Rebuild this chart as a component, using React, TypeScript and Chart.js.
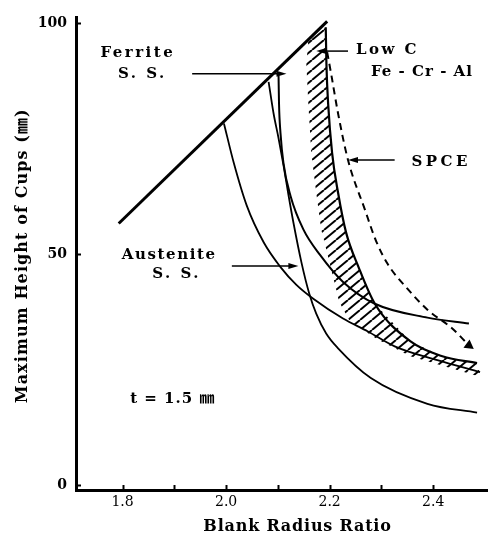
import React, { useEffect, useRef } from 'react';
import { Chart, registerables } from 'chart.js';

Chart.register(...registerables);

// ---------- axes ----------
const X_MIN = 1.71;
const X_MAX = 2.504;
const Y_MIN = -1.1;
const Y_MAX = 101.3;
const X_LABEL_TICKS = [1.8, 2.0, 2.2, 2.4];
const X_MINOR_TICKS = [1.8, 1.9, 2.0, 2.1, 2.2, 2.3, 2.4];
const Y_TICKS = [0, 50, 100];

// ---------- series ----------
// limiting line (upper envelope)
const envelopeX = [1.7925, 2.1952];
const envelopeY = [56.65, 100.44];

// curve starting at ratio 2.0
const curve20X = [1.9958, 2.0149, 2.0399, 2.0725, 2.1051, 2.1358, 2.1684, 2.2259, 2.2739, 2.3256, 2.4081, 2.4906];
const curve20Y = [78.33, 69.74, 60.51, 52.57, 47.2, 43.34, 40.33, 36.04, 33.25, 30.03, 27.02, 24.45];

// Austenite S.S.
const austeniteX = [2.0821, 2.0917, 2.1013, 2.1108, 2.1204, 2.13, 2.1454, 2.1607, 2.1741, 2.1933, 2.2163, 2.2796, 2.3889, 2.4848];
const austeniteY = [87.35, 80.48, 75.11, 69.31, 62.87, 56.86, 48.28, 41.41, 37.11, 32.82, 29.6, 23.16, 17.58, 15.65];

// Ferrite S.S.
const ferriteX = [2.1013, 2.1022, 2.1051, 2.1108, 2.1243, 2.1492, 2.1818, 2.2259, 2.2873, 2.3889, 2.4691];
const ferriteY = [88.64, 82.63, 76.18, 69.74, 62.66, 55.36, 49.78, 43.98, 39.26, 36.25, 34.97];

// Low C Fe-Cr-Al band: right (solid) boundary and left (hatch edge) boundary
const lowCRightX = [2.1925, 2.1938, 2.1971, 2.2048, 2.2163, 2.2317, 2.2566, 2.2873, 2.3563, 2.4177, 2.4848];
const lowCRightY = [99.16, 91.21, 82.63, 71.89, 63.3, 54.72, 46.99, 39.26, 31.1, 27.88, 26.38];
const lowCLeftX = [2.1588, 2.155, 2.1588, 2.1645, 2.1741, 2.1837, 2.2029, 2.2183, 2.2393, 2.293, 2.3563, 2.4215, 2.4925];
const lowCLeftY = [96.36, 91.21, 82.63, 71.89, 63.3, 55.36, 46.77, 39.69, 35.4, 31.53, 27.88, 25.74, 23.37];

// SPCE (dashed)
const spceX = [2.1952, 2.2029, 2.2163, 2.2355, 2.2681, 2.2892, 2.3122, 2.3506, 2.3889, 2.4369, 2.4691];
const spceY = [93.79, 89.07, 80.48, 70.39, 59.65, 53.0, 47.85, 42.48, 37.97, 33.89, 30.24];

// ---------- annotations (data coordinates) ----------
const LABEL_TEXT = ['Ferrite', 'S. S.', 'Austenite', 'S. S.', 'Low C', 'Fe - Cr - Al', 'SPCE', 't = 1.5 ㎜'];
const LABEL_X = [1.827, 1.8356, 1.8884, 1.9018, 2.3093, 2.3774, 2.412, 1.896];
const LABEL_Y = [93.47, 89.07, 49.78, 45.7, 94.22, 89.39, 69.85, 18.54];
const LABEL_SPACING = [2.5, 2.5, 1.6, 2.5, 2.5, 1, 3.5, 1];

const ARROW_FROM_X = [1.9344, 2.0111, 2.2355, 2.3256];
const ARROW_FROM_Y = [89.07, 47.42, 94.0, 70.39];
const ARROW_TO_X = [2.1166, 2.1396, 2.1741, 2.2355];
const ARROW_TO_Y = [89.07, 47.42, 94.0, 70.39];

const X_TITLE = 'Blank Radius Ratio';
const Y_TITLE = 'Maximum Height of Cups (㎜)';

const FONT = '"DejaVu Serif", "Noto Sans CJK JP", serif';

const pts = (xs: number[], ys: number[]) => xs.map((x, i) => ({ x, y: ys[i] }));

const annotationPlugin = {
  id: 'annotations',
  afterDraw(chart: any) {
    const { ctx, chartArea } = chart;
    const xs = chart.scales.x;
    const ys = chart.scales.y;
    ctx.save();
    ctx.strokeStyle = '#000';
    ctx.fillStyle = '#000';
    // inward tick marks
    ctx.lineWidth = 2;
    X_MINOR_TICKS.forEach((v) => {
      const px = Math.round(xs.getPixelForValue(v)) + 0.5;
      ctx.beginPath();
      ctx.moveTo(px, chartArea.bottom);
      ctx.lineTo(px, chartArea.bottom - 5);
      ctx.stroke();
    });
    Y_TICKS.forEach((v) => {
      const py = Math.round(ys.getPixelForValue(v)) + 0.5;
      ctx.beginPath();
      ctx.moveTo(chartArea.left, py);
      ctx.lineTo(chartArea.left + 5, py);
      ctx.stroke();
    });
    // label arrows
    ctx.lineWidth = 1.5;
    ARROW_FROM_X.forEach((fx, i) => {
      const x1 = xs.getPixelForValue(fx);
      const y1 = ys.getPixelForValue(ARROW_FROM_Y[i]);
      const x2 = xs.getPixelForValue(ARROW_TO_X[i]);
      const y2 = ys.getPixelForValue(ARROW_TO_Y[i]);
      const a = Math.atan2(y2 - y1, x2 - x1);
      const L = 10;
      const W = 3;
      ctx.beginPath();
      ctx.moveTo(x1, y1);
      ctx.lineTo(x2 - L * Math.cos(a) * 0.6, y2 - L * Math.sin(a) * 0.6);
      ctx.stroke();
      ctx.beginPath();
      ctx.moveTo(x2, y2);
      ctx.lineTo(x2 - L * Math.cos(a) - W * Math.sin(a), y2 - L * Math.sin(a) + W * Math.cos(a));
      ctx.lineTo(x2 - L * Math.cos(a) + W * Math.sin(a), y2 - L * Math.sin(a) - W * Math.cos(a));
      ctx.closePath();
      ctx.fill();
    });
    // labels
    ctx.textAlign = 'center';
    ctx.textBaseline = 'middle';
    ctx.font = 'bold 15px ' + FONT;
    LABEL_TEXT.forEach((t, i) => {
      ctx.letterSpacing = LABEL_SPACING[i] + 'px';
      ctx.fillText(t, xs.getPixelForValue(LABEL_X[i]) + LABEL_SPACING[i] / 2, ys.getPixelForValue(LABEL_Y[i]));
    });
    // axis titles
    ctx.font = 'bold 16px ' + FONT;
    ctx.letterSpacing = '0.8px';
    ctx.fillText(X_TITLE, (chartArea.left + chartArea.right) / 2 + 16, chartArea.bottom + 37);
    ctx.save();
    ctx.translate(chartArea.left - 53, (chartArea.top + chartArea.bottom) / 2 + 2);
    ctx.rotate(-Math.PI / 2);
    ctx.letterSpacing = '1.1px';
    ctx.fillText(Y_TITLE, 0, 0);
    ctx.restore();
    ctx.restore();
  },
};

export default function App() {
  const ref = useRef<HTMLCanvasElement>(null);
  useEffect(() => {
    const canvas = ref.current!;
    const ctx = canvas.getContext('2d')!;
    const pc = document.createElement('canvas');
    pc.width = 12;
    pc.height = 10;
    const p = pc.getContext('2d')!;
    p.strokeStyle = '#000';
    p.lineWidth = 2;
    [-1, 0, 1].forEach((k) => {
      p.beginPath();
      p.moveTo(k * 12, 10);
      p.lineTo(k * 12 + 12, 0);
      p.stroke();
    });
    const pattern = ctx.createPattern(pc, 'repeat');

    const bandData = [...pts(lowCRightX, lowCRightY), ...pts(lowCLeftX, lowCLeftY).reverse()];
    const spceData = pts(spceX, spceY);
    const base = {
      showLine: true,
      pointRadius: 0,
      borderColor: '#000',
      fill: false,
      cubicInterpolationMode: 'monotone',
    };

    const chart = new Chart(canvas, {
      type: 'scatter',
      data: {
        datasets: [
          {
            ...base,
            label: 'SPCE',
            data: spceData,
            borderWidth: 2,
            borderDash: [7, 5],
            pointRadius: (c: any) => (c.dataIndex === spceData.length - 1 ? 4 : 0),
            pointStyle: 'triangle',
            rotation: 126,
            pointBackgroundColor: '#000',
            pointBorderColor: '#000',
          },
          { ...base, label: 'Low C Fe-Cr-Al', data: pts(lowCRightX, lowCRightY), borderWidth: 2.2 },
          { ...base, label: 'Ferrite S.S.', data: pts(ferriteX, ferriteY), borderWidth: 2 },
          { ...base, label: 'Austenite S.S.', data: pts(austeniteX, austeniteY), borderWidth: 1.8 },
          { ...base, label: 'R=2.0', data: pts(curve20X, curve20Y), borderWidth: 1.8 },
          { ...base, label: 'Limit', data: pts(envelopeX, envelopeY), borderWidth: 3, cubicInterpolationMode: 'default', tension: 0 },
          {
            ...base,
            label: 'Low C band',
            data: bandData,
            borderWidth: 0,
            cubicInterpolationMode: 'default',
            tension: 0,
            fill: 'shape',
            backgroundColor: pattern,
          },
        ],
      } as any,
      options: {
        animation: false,
        responsive: true,
        maintainAspectRatio: false,
        events: [],
        layout: { padding: { left: 0, top: 13, right: 3, bottom: 0 } },
        plugins: { legend: { display: false }, tooltip: { enabled: false } },
        scales: {
          x: {
            type: 'linear',
            min: X_MIN,
            max: X_MAX,
            afterBuildTicks: (s: any) => {
              s.ticks = X_LABEL_TICKS.map((v) => ({ value: v }));
            },
            afterFit: (s: any) => {
              s.height = 49;
            },
            grid: { display: false, drawTicks: false },
            border: { display: true, color: '#000', width: 3 },
            ticks: {
              color: '#000',
              padding: 4,
              autoSkip: false,
              maxRotation: 0,
              font: { family: FONT, size: 14 },
              callback: (v: any) => Number(v).toFixed(1),
            },
          },
          y: {
            type: 'linear',
            min: Y_MIN,
            max: Y_MAX,
            afterBuildTicks: (s: any) => {
              s.ticks = Y_TICKS.map((v) => ({ value: v }));
            },
            afterFit: (s: any) => {
              s.width = 76;
            },
            grid: { display: false, drawTicks: false },
            border: { display: true, color: '#000', width: 3 },
            ticks: {
              color: '#000',
              padding: 9,
              font: { family: FONT, size: 14, weight: 'bold' },
              callback: (v: any) => String(v),
            },
          },
        },
      } as any,
      plugins: [annotationPlugin],
    });
    return () => chart.destroy();
  }, []);
  return (
    <div style={{ position: 'absolute', left: 0, top: 0, width: 493, height: 539, background: '#fff' }}>
      <canvas ref={ref} />
    </div>
  );
}
